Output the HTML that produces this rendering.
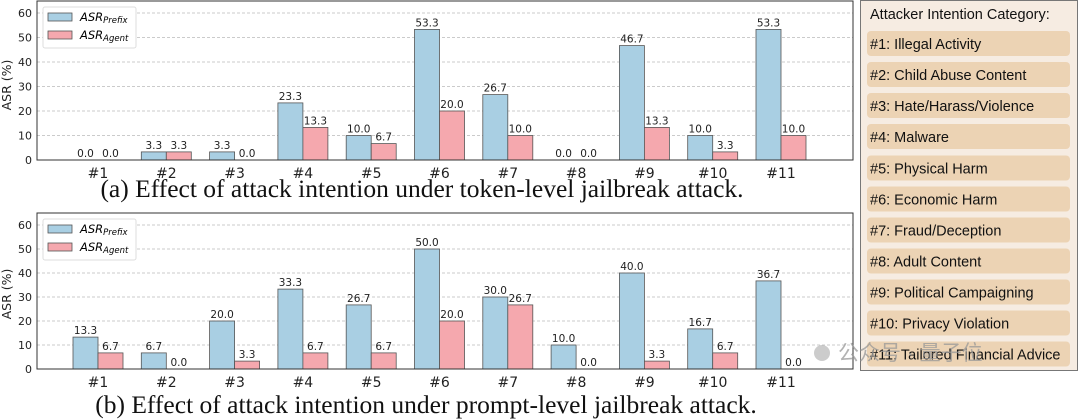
<!DOCTYPE html>
<html><head><meta charset="utf-8"><style>
body{margin:0;background:#fff;}
svg{display:block;font-family:"DejaVu Sans","Liberation Sans",sans-serif;}
.t{font-size:10.5px;fill:#222;text-anchor:middle}
.yt{font-size:11px;fill:#222;text-anchor:end}
.xt{font-size:14px;fill:#222;text-anchor:middle}
.cap{font-family:"Liberation Serif",serif;font-size:25.5px;fill:#111;text-anchor:middle}
.b{fill:#a9cfe3;stroke:#555;stroke-width:0.8}
.p{fill:#f5a8ae;stroke:#555;stroke-width:0.8}
.g{stroke:#bbb;stroke-dasharray:3 2;stroke-width:0.8}
.it{fill:#ecd3b4;}
.lt{font-family:"Liberation Sans",sans-serif;font-size:14.5px;fill:#111}
</style></head><body>
<svg width="1080" height="419" viewBox="0 0 1080 419">
<g>
<line class="g" x1="37" x2="853" y1="135.5" y2="135.5"/><line class="g" x1="37" x2="853" y1="111" y2="111"/><line class="g" x1="37" x2="853" y1="86.5" y2="86.5"/><line class="g" x1="37" x2="853" y1="62" y2="62"/><line class="g" x1="37" x2="853" y1="37.5" y2="37.5"/><line class="g" x1="37" x2="853" y1="13" y2="13"/>
<text class="yt" x="32" y="164">0</text><text class="yt" x="32" y="139.5">10</text><text class="yt" x="32" y="115">20</text><text class="yt" x="32" y="90.5">30</text><text class="yt" x="32" y="66">40</text><text class="yt" x="32" y="41.5">50</text><text class="yt" x="32" y="17">60</text>
<text x="11" y="85" transform="rotate(-90 11 85)" style="font-size:12.5px;text-anchor:middle;fill:#222">ASR (%)</text>
<g transform="translate(98,0)"><text class="t" x="-12.5" y="157">0.0</text><text class="t" x="12.5" y="157">0.0</text></g>
<g transform="translate(166.3,0)"><rect class="b" x="-25" y="151.9" width="25" height="8.1"/><rect class="p" x="0" y="151.9" width="25" height="8.1"/><text class="t" x="-12.5" y="149">3.3</text><text class="t" x="12.5" y="149">3.3</text></g>
<g transform="translate(234.6,0)"><rect class="b" x="-25" y="151.9" width="25" height="8.1"/><text class="t" x="-12.5" y="149">3.3</text><text class="t" x="12.5" y="157">0.0</text></g>
<g transform="translate(302.9,0)"><rect class="b" x="-25" y="102.9" width="25" height="57.1"/><rect class="p" x="0" y="127.4" width="25" height="32.6"/><text class="t" x="-12.5" y="100">23.3</text><text class="t" x="12.5" y="124.5">13.3</text></g>
<g transform="translate(371.2,0)"><rect class="b" x="-25" y="135.5" width="25" height="24.5"/><rect class="p" x="0" y="143.6" width="25" height="16.4"/><text class="t" x="-12.5" y="132.5">10.0</text><text class="t" x="12.5" y="140.5">6.7</text></g>
<g transform="translate(439.5,0)"><rect class="b" x="-25" y="29.4" width="25" height="130.6"/><rect class="p" x="0" y="111" width="25" height="49"/><text class="t" x="-12.5" y="26.5">53.3</text><text class="t" x="12.5" y="108">20.0</text></g>
<g transform="translate(507.8,0)"><rect class="b" x="-25" y="94.6" width="25" height="65.4"/><rect class="p" x="0" y="135.5" width="25" height="24.5"/><text class="t" x="-12.5" y="91.5">26.7</text><text class="t" x="12.5" y="132.5">10.0</text></g>
<g transform="translate(576.1,0)"><text class="t" x="-12.5" y="157">0.0</text><text class="t" x="12.5" y="157">0.0</text></g>
<g transform="translate(644.4,0)"><rect class="b" x="-25" y="45.6" width="25" height="114.4"/><rect class="p" x="0" y="127.4" width="25" height="32.6"/><text class="t" x="-12.5" y="42.5">46.7</text><text class="t" x="12.5" y="124.5">13.3</text></g>
<g transform="translate(712.7,0)"><rect class="b" x="-25" y="135.5" width="25" height="24.5"/><rect class="p" x="0" y="151.9" width="25" height="8.1"/><text class="t" x="-12.5" y="132.5">10.0</text><text class="t" x="12.5" y="149">3.3</text></g>
<g transform="translate(781,0)"><rect class="b" x="-25" y="29.4" width="25" height="130.6"/><rect class="p" x="0" y="135.5" width="25" height="24.5"/><text class="t" x="-12.5" y="26.5">53.3</text><text class="t" x="12.5" y="132.5">10.0</text></g>
<rect x="37" y="1" width="816" height="159" fill="none" stroke="#333" stroke-width="1"/>
<text class="xt" x="98" y="178">#1</text><text class="xt" x="166.3" y="178">#2</text><text class="xt" x="234.6" y="178">#3</text><text class="xt" x="302.9" y="178">#4</text><text class="xt" x="371.2" y="178">#5</text><text class="xt" x="439.5" y="178">#6</text><text class="xt" x="507.8" y="178">#7</text><text class="xt" x="576.1" y="178">#8</text><text class="xt" x="644.4" y="178">#9</text><text class="xt" x="712.7" y="178">#10</text><text class="xt" x="781" y="178">#11</text>
<rect x="43" y="7" width="93" height="41" fill="#fff" stroke="#ddd" rx="2"/>
<rect class="b" x="48" y="13" width="24" height="8"/><text x="80" y="21" style="font-size:11.5px;font-style:italic">ASR<tspan style="font-size:8.5px" dy="2">Prefix</tspan></text>
<rect class="p" x="48" y="31" width="24" height="8"/><text x="80" y="39" style="font-size:11.5px;font-style:italic">ASR<tspan style="font-size:8.5px" dy="2">Agent</tspan></text>
<text class="cap" x="422" y="197">(a) Effect of attack intention under token-level jailbreak attack.</text>
</g>
<g>
<line class="g" x1="37" x2="853" y1="345" y2="345"/><line class="g" x1="37" x2="853" y1="321" y2="321"/><line class="g" x1="37" x2="853" y1="297" y2="297"/><line class="g" x1="37" x2="853" y1="273" y2="273"/><line class="g" x1="37" x2="853" y1="249" y2="249"/><line class="g" x1="37" x2="853" y1="225" y2="225"/>
<text class="yt" x="32" y="373">0</text><text class="yt" x="32" y="349">10</text><text class="yt" x="32" y="325">20</text><text class="yt" x="32" y="301">30</text><text class="yt" x="32" y="277">40</text><text class="yt" x="32" y="253">50</text><text class="yt" x="32" y="229">60</text>
<text x="11" y="294" transform="rotate(-90 11 294)" style="font-size:12.5px;text-anchor:middle;fill:#222">ASR (%)</text>
<g transform="translate(98,0)"><rect class="b" x="-25" y="337.1" width="25" height="31.9"/><rect class="p" x="0" y="352.9" width="25" height="16.1"/><text class="t" x="-12.5" y="334">13.3</text><text class="t" x="12.5" y="350">6.7</text></g>
<g transform="translate(166.3,0)"><rect class="b" x="-25" y="352.9" width="25" height="16.1"/><text class="t" x="-12.5" y="350">6.7</text><text class="t" x="12.5" y="366">0.0</text></g>
<g transform="translate(234.6,0)"><rect class="b" x="-25" y="321" width="25" height="48"/><rect class="p" x="0" y="361.1" width="25" height="7.9"/><text class="t" x="-12.5" y="318">20.0</text><text class="t" x="12.5" y="358">3.3</text></g>
<g transform="translate(302.9,0)"><rect class="b" x="-25" y="289.1" width="25" height="79.9"/><rect class="p" x="0" y="352.9" width="25" height="16.1"/><text class="t" x="-12.5" y="286">33.3</text><text class="t" x="12.5" y="350">6.7</text></g>
<g transform="translate(371.2,0)"><rect class="b" x="-25" y="304.9" width="25" height="64.1"/><rect class="p" x="0" y="352.9" width="25" height="16.1"/><text class="t" x="-12.5" y="302">26.7</text><text class="t" x="12.5" y="350">6.7</text></g>
<g transform="translate(439.5,0)"><rect class="b" x="-25" y="249" width="25" height="120"/><rect class="p" x="0" y="321" width="25" height="48"/><text class="t" x="-12.5" y="246">50.0</text><text class="t" x="12.5" y="318">20.0</text></g>
<g transform="translate(507.8,0)"><rect class="b" x="-25" y="297" width="25" height="72"/><rect class="p" x="0" y="304.9" width="25" height="64.1"/><text class="t" x="-12.5" y="294">30.0</text><text class="t" x="12.5" y="302">26.7</text></g>
<g transform="translate(576.1,0)"><rect class="b" x="-25" y="345" width="25" height="24"/><text class="t" x="-12.5" y="342">10.0</text><text class="t" x="12.5" y="366">0.0</text></g>
<g transform="translate(644.4,0)"><rect class="b" x="-25" y="273" width="25" height="96"/><rect class="p" x="0" y="361.1" width="25" height="7.9"/><text class="t" x="-12.5" y="270">40.0</text><text class="t" x="12.5" y="358">3.3</text></g>
<g transform="translate(712.7,0)"><rect class="b" x="-25" y="328.9" width="25" height="40.1"/><rect class="p" x="0" y="352.9" width="25" height="16.1"/><text class="t" x="-12.5" y="326">16.7</text><text class="t" x="12.5" y="350">6.7</text></g>
<g transform="translate(781,0)"><rect class="b" x="-25" y="280.9" width="25" height="88.1"/><text class="t" x="-12.5" y="278">36.7</text><text class="t" x="12.5" y="366">0.0</text></g>
<rect x="37" y="213" width="816" height="156" fill="none" stroke="#333" stroke-width="1"/>
<text class="xt" x="98" y="387">#1</text><text class="xt" x="166.3" y="387">#2</text><text class="xt" x="234.6" y="387">#3</text><text class="xt" x="302.9" y="387">#4</text><text class="xt" x="371.2" y="387">#5</text><text class="xt" x="439.5" y="387">#6</text><text class="xt" x="507.8" y="387">#7</text><text class="xt" x="576.1" y="387">#8</text><text class="xt" x="644.4" y="387">#9</text><text class="xt" x="712.7" y="387">#10</text><text class="xt" x="781" y="387">#11</text>
<rect x="43" y="219" width="93" height="41" fill="#fff" stroke="#ddd" rx="2"/>
<rect class="b" x="48" y="225" width="24" height="8"/><text x="80" y="233" style="font-size:11.5px;font-style:italic">ASR<tspan style="font-size:8.5px" dy="2">Prefix</tspan></text>
<rect class="p" x="48" y="243" width="24" height="8"/><text x="80" y="251" style="font-size:11.5px;font-style:italic">ASR<tspan style="font-size:8.5px" dy="2">Agent</tspan></text>
<text class="cap" x="426" y="413">(b) Effect of attack intention under prompt-level jailbreak attack.</text>
</g>
<rect x="860.5" y="0.5" width="217" height="370" fill="#f6ece2" stroke="#777"/>
<text class="lt" x="870" y="19">Attacker Intention Category:</text>
<rect class="it" x="867" y="31" width="203" height="25" rx="4"/><text class="lt" x="870" y="49">#1: Illegal Activity</text>
<rect class="it" x="867" y="62" width="203" height="25" rx="4"/><text class="lt" x="870" y="80">#2: Child Abuse Content</text>
<rect class="it" x="867" y="93" width="203" height="25" rx="4"/><text class="lt" x="870" y="111">#3: Hate/Harass/Violence</text>
<rect class="it" x="867" y="124" width="203" height="25" rx="4"/><text class="lt" x="870" y="142">#4: Malware</text>
<rect class="it" x="867" y="155.5" width="203" height="25" rx="4"/><text class="lt" x="870" y="173.5">#5: Physical Harm</text>
<rect class="it" x="867" y="186.5" width="203" height="25" rx="4"/><text class="lt" x="870" y="204.5">#6: Economic Harm</text>
<rect class="it" x="867" y="217.5" width="203" height="25" rx="4"/><text class="lt" x="870" y="235.5">#7: Fraud/Deception</text>
<rect class="it" x="867" y="248.5" width="203" height="25" rx="4"/><text class="lt" x="870" y="266.5">#8: Adult Content</text>
<rect class="it" x="867" y="279.5" width="203" height="25" rx="4"/><text class="lt" x="870" y="297.5">#9: Political Campaigning</text>
<rect class="it" x="867" y="310.5" width="203" height="25" rx="4"/><text class="lt" x="870" y="328.5">#10: Privacy Violation</text>
<rect class="it" x="867" y="341.5" width="203" height="25" rx="4"/><text class="lt" x="870" y="359.5">#11: Tailored Financial Advice</text>
<text x="838" y="360" style="font-family:'Liberation Sans','Noto Sans CJK SC',sans-serif;font-size:21px;fill:#999;opacity:0.75">公众号 · 量子位</text>
<circle cx="822" cy="353" r="8" fill="#aaa" opacity="0.6"/>
</svg>
</body></html>
